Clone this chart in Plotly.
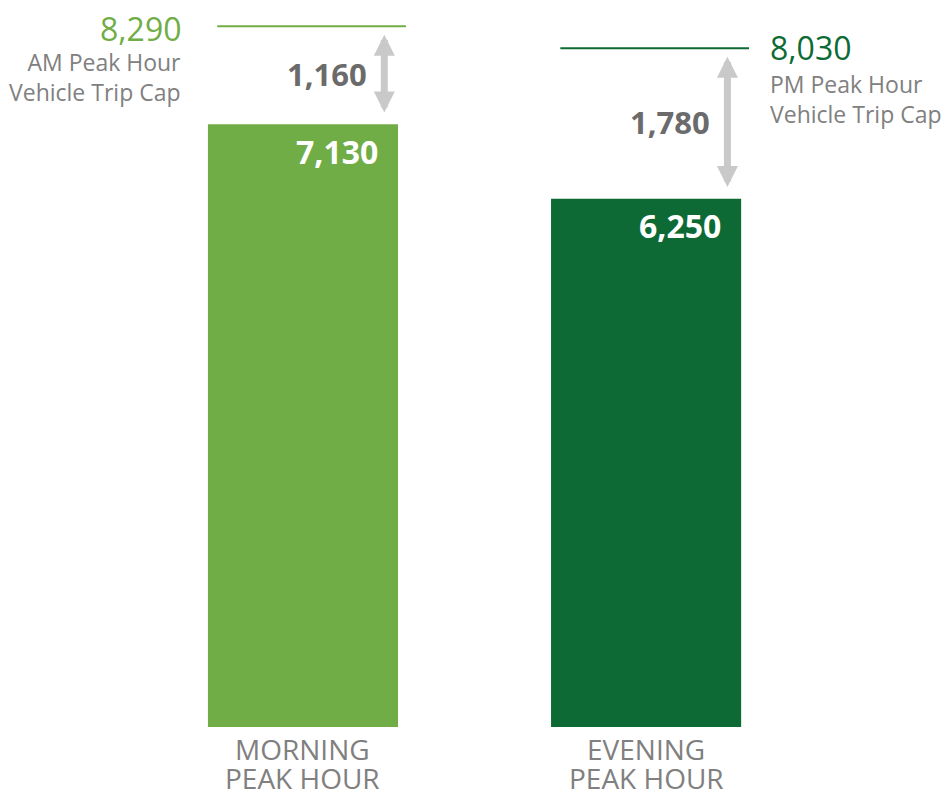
import plotly.graph_objects as go

categories = ["MORNING<br>PEAK HOUR", "EVENING<br>PEAK HOUR"]
peak_trips = [7130, 6250]
trip_caps = [8290, 8030]
cap_labels = ["AM Peak Hour<br>Vehicle Trip Cap", "PM Peak Hour<br>Vehicle Trip Cap"]
bar_colors = ["#70AD47", "#0D6A35"]

FONT = "Open Sans"
GRAY = "#808080"
DARK_GRAY = "#6B6B6B"
ARROW = "#C9C9C9"

xs = list(range(len(categories)))
fig = go.Figure()
fig.add_trace(go.Bar(x=xs, y=peak_trips, width=0.554, marker=dict(color=bar_colors, line=dict(width=0)),
                     hoverinfo="skip"))

def fmt(v):
    return f"{v:,}"

for i, (val, cap, lab, col) in enumerate(zip(peak_trips, trip_caps, cap_labels, bar_colors)):
    # cap line
    fig.add_shape(type="line", x0=i - 0.25, x1=i + 0.30, y0=cap, y1=cap,
                  xref="x", yref="y", line=dict(color=col, width=2))
    # double arrow
    gap_top = 100
    gap_bot = 120
    ax_x = i + 0.237
    fig.add_annotation(x=ax_x, y=cap - gap_top, ax=ax_x, ay=val + gap_bot,
                       xref="x", yref="y", axref="x", ayref="y", text="",
                       showarrow=True, arrowhead=2, arrowside="end+start",
                       arrowsize=0.6, arrowwidth=7, arrowcolor=ARROW)
    # difference label
    fig.add_annotation(x=ax_x - 0.045, y=(cap + val) / 2, xref="x", yref="y", yshift=1.5,
                       text=fmt(cap - val), showarrow=False, xanchor="right", yanchor="middle",
                       font=dict(family=FONT, size=31, color=DARK_GRAY, weight="bold"))
    # value label in bar
    fig.add_annotation(x=i + 0.224, y=val, xref="x", yref="y", yshift=-27,
                       text=fmt(val), showarrow=False, xanchor="right", yanchor="middle",
                       font=dict(family=FONT, size=32, color="white", weight="bold"))
    # category label (two lines, tight spacing)
    for k, line in enumerate(categories[i].split("<br>")):
        fig.add_annotation(x=i, y=0, xref="x", yref="y", yshift=-22 - 29 * k,
                           text=line, showarrow=False, xanchor="center", yanchor="middle",
                           font=dict(family=FONT, size=28, color=GRAY))
    # cap value + label
    if i == 0:
        cx, anchor, align = i - 0.35, "right", "right"
        shift = -2
    else:
        cx, anchor, align = i + 0.356, "left", "left"
        shift = 1
    fig.add_annotation(x=cx, y=cap, xref="x", yref="y", yshift=shift,
                       text=fmt(cap), showarrow=False, xanchor=anchor, yanchor="middle",
                       font=dict(family=FONT, size=32, color=col))
    fig.add_annotation(x=cx, y=cap, xref="x", yref="y", yshift=-18,
                       text=lab, showarrow=False, xanchor=anchor, yanchor="top", align=align,
                       font=dict(family=FONT, size=23, color=GRAY))

fig.update_layout(
    width=947, height=798,
    margin=dict(l=0, r=0, t=0, b=71),
    paper_bgcolor="white", plot_bgcolor="white",
    showlegend=False,
    xaxis=dict(range=[-0.883, 1.877], visible=False, fixedrange=True),
    yaxis=dict(range=[0, 8600], visible=False, fixedrange=True),
)

fig.write_html("out.html", config={"displayModeBar": False},
               post_script="document.body.style.margin='0';document.documentElement.style.overflow='hidden';")
